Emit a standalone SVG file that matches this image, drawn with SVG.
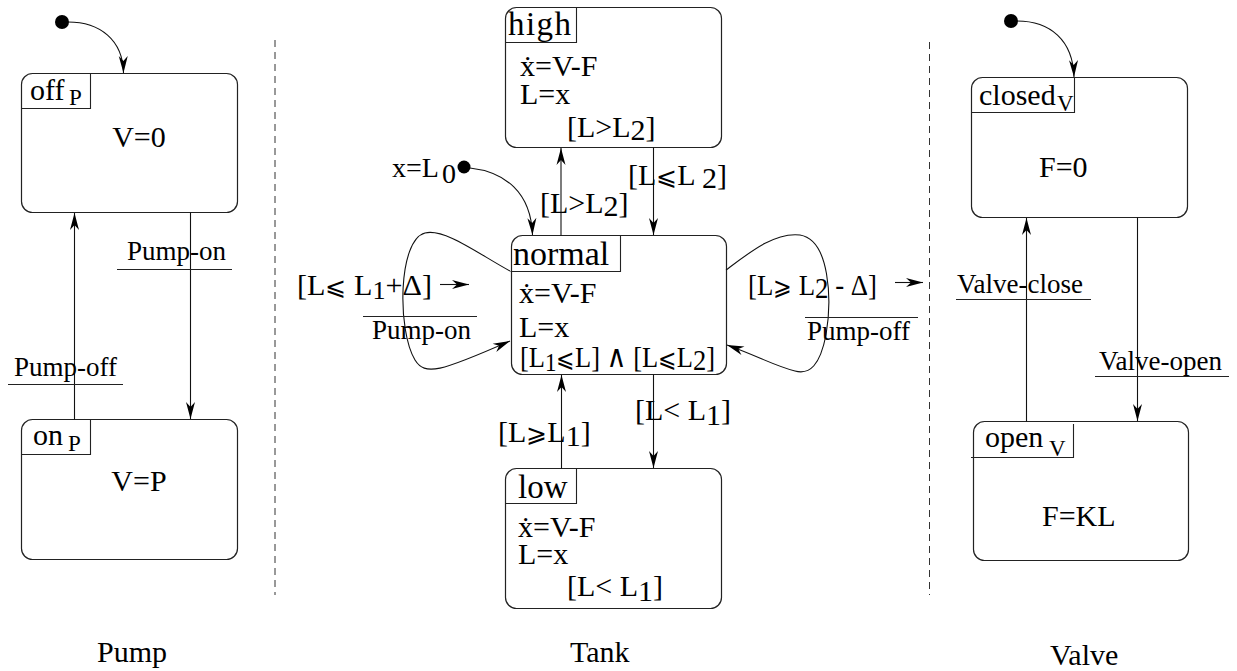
<svg xmlns="http://www.w3.org/2000/svg" width="1237" height="671" viewBox="0 0 1237 671">
<defs>
<style>
.box{fill:none;stroke:#222;stroke-width:1.2}
.ln{fill:none;stroke:#222;stroke-width:1.1}
.arr{fill:none;stroke:#111;stroke-width:1.1;marker-end:url(#ah)}
.sep{fill:none;stroke:#333;stroke-width:1;stroke-dasharray:7 5}
.t{font-family:"Liberation Serif","DejaVu Serif","DejaVu Sans",serif;fill:#000}
.s30{font-size:30px}
.s27{font-size:27px}
.s33{font-size:33px}
.sub{font-size:23px}
.rel{font-family:"DejaVu Sans","Liberation Serif",sans-serif;font-weight:200;font-size:25px}
.wedge{font-family:"DejaVu Serif","DejaVu Sans",serif;font-weight:200;font-size:31px}
</style>
<marker id="ah" viewBox="-18 -5 19 10" refX="0" refY="0" markerWidth="19" markerHeight="10" markerUnits="userSpaceOnUse" orient="auto">
<path d="M0,0 L-17,-4.5 L-12,0 L-17,4.5 Z" fill="#000"/>
</marker>
</defs>
<rect width="1237" height="671" fill="#fff"/>

<g id="separators">
<line class="sep" x1="275" y1="40" x2="275" y2="595"/>
<line class="sep" x1="929.5" y1="42" x2="929.5" y2="595"/>
</g>

<g id="offP">
<rect class="box" x="21.5" y="73.5" width="216" height="139" rx="11"/>
<path class="ln" d="M90.5 73.5 V108.5 H21.5"/>
<text class="t s30" x="30" y="100">off</text>
<text class="t sub" x="69" y="105">P</text>
<text class="t s30" x="139" y="147" text-anchor="middle">V=0</text>
</g>
<g id="onP">
<rect class="box" x="21.5" y="419.5" width="216" height="140" rx="11"/>
<path class="ln" d="M90.5 419.5 V454.5 H21.5"/>
<text class="t s30" x="33" y="445">on</text>
<text class="t sub" x="68" y="451">P</text>
<text class="t s30" x="139" y="491" text-anchor="middle">V=P</text>
</g>
<g id="initP">
<circle cx="62" cy="22" r="7" fill="#000"/>
</g>

<g id="high">
<rect class="box" x="505.5" y="7.5" width="216" height="140" rx="11"/>
<path class="ln" d="M576.5 7.5 V42.5 H505.5"/>
<text class="t s33" x="508" y="35" textLength="63">high</text>
<text class="t s30" x="520" y="76">ẋ=V-F</text>
<text class="t s30" x="520" y="104">L=x</text>
<text class="t s30" x="567" y="137">[L&gt;L<tspan dy="3">2</tspan><tspan dy="-3">]</tspan></text>
</g>
<g id="normal">
<rect class="box" x="511.5" y="235.5" width="215" height="139" rx="11"/>
<path class="ln" d="M620.5 235.5 V271.5 H510.5"/>
<text class="t" font-size="34" x="513" y="265">normal</text>
<text class="t s30" x="519" y="303">ẋ=V-F</text>
<text class="t s30" x="519" y="337">L=x</text>
<text class="t s30" x="520" y="367" textLength="195" lengthAdjust="spacingAndGlyphs">[L<tspan dy="4" font-size="26">1</tspan><tspan dy="-4" class="rel">⩽</tspan>L] <tspan class="wedge">∧</tspan> [L<tspan class="rel">⩽</tspan>L<tspan dy="3">2</tspan><tspan dy="-3">]</tspan></text>
</g>
<g id="low">
<rect class="box" x="505.5" y="468.5" width="216" height="140" rx="11"/>
<path class="ln" d="M576.5 468.5 V503.5 H505.5"/>
<text class="t s33" x="518" y="498">low</text>
<text class="t s30" x="518" y="537">ẋ=V-F</text>
<text class="t s30" x="518" y="564">L=x</text>
<text class="t s30" x="567" y="596">[L&lt; L<tspan dy="5">1</tspan><tspan dy="-5">]</tspan></text>
</g>
<g id="initT">
<circle cx="464" cy="167" r="6.5" fill="#000"/>
<text class="t" font-size="28" x="392" y="177">x=L<tspan dx="3" dy="6">0</tspan></text>
</g>

<g id="closedV">
<rect class="box" x="971.5" y="77.5" width="216" height="140" rx="11"/>
<path class="ln" d="M1074.5 77.5 V112.5 H971.5"/>
<text class="t s30" x="979" y="105">closed</text>
<text class="t sub" x="1057" y="111">V</text>
<text class="t s30" x="1039" y="177">F=0</text>
</g>
<g id="openV">
<rect class="box" x="973.5" y="421.5" width="215" height="139" rx="11"/>
<path class="ln" d="M1073.5 424 V457.5 H971"/>
<text class="t s30" x="985" y="447">open</text>
<text class="t sub" x="1049" y="456">V</text>
<text class="t s30" x="1042" y="526">F=KL</text>
</g>
<g id="initV">
<circle cx="1011" cy="21" r="7" fill="#000"/>
</g>

<g id="captions">
<text class="t s30" x="97" y="662">Pump</text>
<text class="t s30" x="570" y="662">Tank</text>
<text class="t s30" x="1050" y="665">Valve</text>
</g>

<g id="connectors">
<path class="arr" d="M68 22 C100 22, 123 40, 123.5 73"/>
<path class="arr" d="M190.5 212.5 V419"/>
<path class="arr" d="M74.5 419.5 V213"/>
<path class="arr" d="M470 168 C505 172, 531 192, 532.5 235"/>
<path class="arr" d="M653.5 147.5 V235"/>
<path class="arr" d="M561 235.5 V148"/>
<path class="arr" d="M653.5 374.5 V468"/>
<path class="arr" d="M561.5 468.5 V375"/>
<path class="arr" d="M510 271 C480 255, 445 228, 425 233 C398 240, 397 330, 415 360 C425 376, 440 372, 510 341"/>
<path class="arr" d="M726 270 C750 252, 775 232, 800 235 C830 240, 832 300, 826 335 C820 365, 810 375, 795 371 C775 366, 760 357, 727 345"/>
<path class="arr" d="M1017 21 C1050 21, 1073 40, 1074 77"/>
<path class="arr" d="M1137.5 217.5 V421"/>
<path class="arr" d="M1026.5 421.5 V218"/>
</g>

<g id="labels">
<text class="t s27" x="127" y="260">Pump-on</text>
<line class="ln" x1="117" y1="269.5" x2="232" y2="269.5"/>
<text class="t s27" x="14" y="376">Pump-off</text>
<line class="ln" x1="8" y1="384.5" x2="123" y2="384.5"/>

<text class="t s30" x="628" y="185">[L<tspan class="rel">⩽</tspan>L <tspan dy="3">2</tspan><tspan dy="-3">]</tspan></text>
<text class="t s30" x="540" y="213">[L&gt;L<tspan dy="3">2</tspan><tspan dy="-3">]</tspan></text>
<text class="t s30" x="635" y="420">[L&lt; L<tspan dy="5">1</tspan><tspan dy="-5">]</tspan></text>
<text class="t s30" x="498" y="442">[L<tspan class="rel">⩾</tspan>L<tspan dy="4">1</tspan><tspan dy="-4">]</tspan></text>

<text class="t s30" x="297" y="295" textLength="135" lengthAdjust="spacingAndGlyphs">[L<tspan class="rel">⩽</tspan> L<tspan dy="4" font-size="26">1</tspan><tspan dy="-4">+Δ]</tspan></text>
<path class="arr" d="M440 284.5 H469"/>
<line class="ln" x1="363" y1="316.5" x2="477" y2="316.5"/>
<text class="t s27" x="372" y="339">Pump-on</text>

<text class="t s30" x="748" y="295" textLength="129" lengthAdjust="spacingAndGlyphs">[L<tspan class="rel">⩾</tspan> L<tspan dy="3">2</tspan><tspan dy="-3"> - Δ]</tspan></text>
<path class="arr" d="M895 282.5 H923"/>
<line class="ln" x1="805" y1="317.5" x2="918" y2="317.5"/>
<text class="t s27" x="807" y="340">Pump-off</text>

<text class="t s27" x="957" y="293">Valve-close</text>
<line class="ln" x1="956" y1="299.5" x2="1091" y2="299.5"/>
<text class="t s27" x="1099" y="370">Valve-open</text>
<line class="ln" x1="1095" y1="376.5" x2="1229" y2="376.5"/>
</g>
</svg>
